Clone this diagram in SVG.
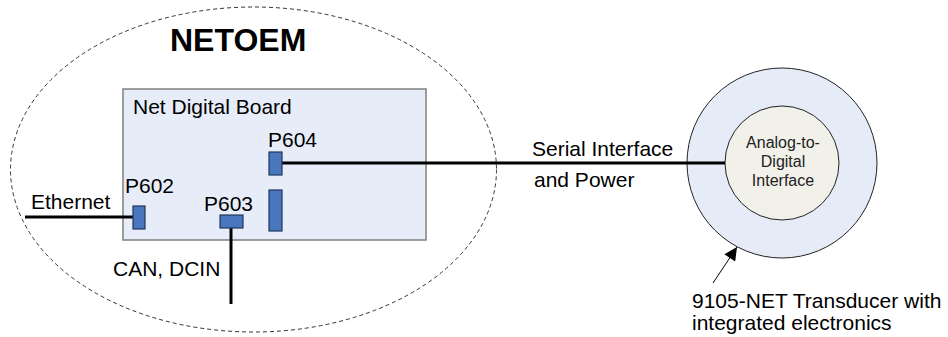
<svg xmlns="http://www.w3.org/2000/svg" width="948" height="337" viewBox="0 0 948 337">
<style>
text{font-family:"Liberation Sans",Arial,sans-serif;fill:#000}
.lbl{font-size:21px}
.small{font-size:16px;fill:#222;text-anchor:middle}
.conn{fill:#4a76be;stroke:#22355a;stroke-width:1.2}
.wire{stroke:#000;stroke-width:3;fill:none}
</style>
<defs>
<marker id="ah" viewBox="0 0 10 10" refX="10" refY="5" markerWidth="19" markerHeight="13" markerUnits="userSpaceOnUse" orient="auto">
<path d="M0,0 L10,5 L0,10 z" fill="#000"/>
</marker>
</defs>
<rect width="948" height="337" fill="#fff"/>
<g id="netoem">
<ellipse cx="253.5" cy="169.5" rx="243" ry="162.5" fill="none" stroke="#333" stroke-width="1" stroke-dasharray="4,3"/>
<text x="170" y="51" font-size="32" font-weight="bold">NETOEM</text>
</g>
<g id="board">
<rect x="123" y="89" width="303" height="151" fill="#e7edf8" stroke="#7f7f7f" stroke-width="1.5"/>
<text class="lbl" x="133" y="114">Net Digital Board</text>
</g>
<g id="transducer">
<circle cx="782" cy="163" r="95" fill="#e6ecf7" stroke="#222" stroke-width="1"/>
</g>
<g id="adc">
<circle cx="782" cy="163" r="57" fill="#f1f1ea" stroke="#222" stroke-width="1"/>
<text class="small" x="783" y="148">Analog-to-</text>
<text class="small" x="783" y="167">Digital</text>
<text class="small" x="783" y="186">Interface</text>
</g>
<g id="connectors">
<line class="wire" x1="25" y1="217" x2="133" y2="217"/>
<line class="wire" x1="231" y1="228" x2="231" y2="304"/>
<line class="wire" x1="282" y1="163" x2="725" y2="163"/>
<line x1="713" y1="283" x2="737" y2="247" stroke="#000" stroke-width="1" marker-end="url(#ah)"/>
</g>
<g id="p602">
<rect class="conn" x="133" y="206" width="12" height="23"/>
<text class="lbl" x="125" y="193">P602</text>
</g>
<g id="p603">
<rect class="conn" x="220" y="215" width="23" height="13"/>
<text class="lbl" x="204" y="211">P603</text>
</g>
<g id="p604">
<rect class="conn" x="269" y="152" width="13" height="23"/>
<text class="lbl" x="268" y="147">P604</text>
</g>
<g id="connector-tall">
<rect class="conn" x="269" y="190" width="13" height="41"/>
</g>
<g id="labels">
<text class="lbl" x="31" y="209">Ethernet</text>
<text class="lbl" x="113" y="276">CAN, DCIN</text>
<text class="lbl" x="532" y="156">Serial Interface</text>
<text class="lbl" x="534" y="187">and Power</text>
<text class="lbl" x="692" y="308">9105-NET Transducer with</text>
<text class="lbl" x="692" y="330">integrated electronics</text>
</g>
</svg>
